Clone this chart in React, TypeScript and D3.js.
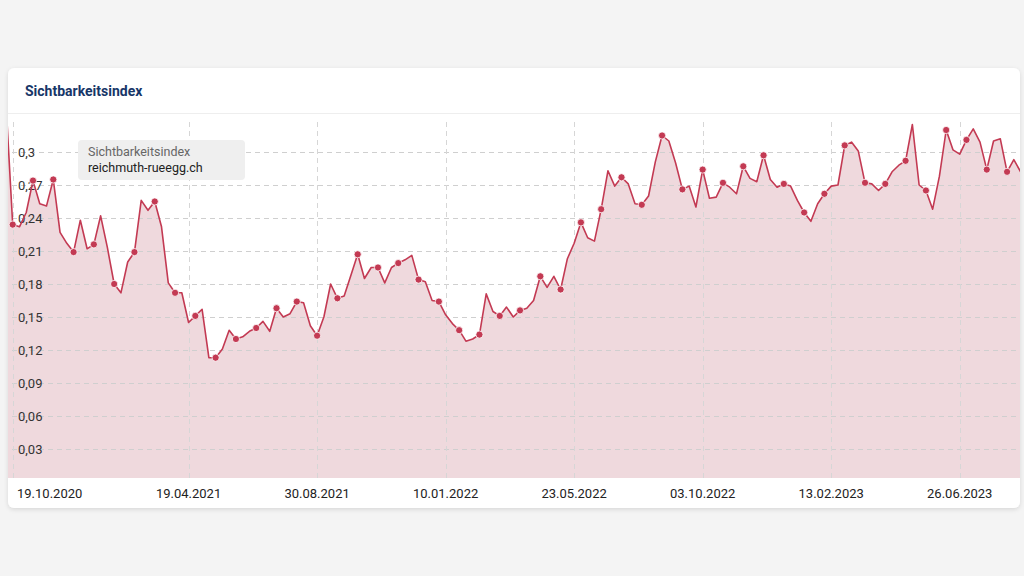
import React from "react";
import * as d3 from "d3";

const title = "Sichtbarkeitsindex";
const legendTitle = "Sichtbarkeitsindex";
const legendDomain = "reichmuth-rueegg.ch";

// weekly SISTRIX visibility index, first value is the week before 19.10.2020
const firstWeek = "12.10.2020";
const values: number[] = [
  0.345,
  0.234, 0.232, 0.245, 0.274, 0.253, 0.251, 0.275, 0.227, 0.217, 0.209,
  0.238, 0.212, 0.216, 0.242, 0.213, 0.180, 0.172, 0.200, 0.209, 0.256,
  0.247, 0.255, 0.232, 0.181, 0.172, 0.172, 0.145, 0.151, 0.157, 0.113,
  0.113, 0.121, 0.138, 0.130, 0.132, 0.137, 0.140, 0.146, 0.137, 0.158,
  0.150, 0.153, 0.164, 0.163, 0.142, 0.133, 0.150, 0.180, 0.167, 0.169,
  0.188, 0.207, 0.185, 0.195, 0.195, 0.181, 0.195, 0.199, 0.202, 0.206,
  0.184, 0.182, 0.165, 0.164, 0.152, 0.144, 0.138, 0.128, 0.130, 0.134,
  0.171, 0.155, 0.151, 0.159, 0.150, 0.156, 0.158, 0.165, 0.187, 0.177,
  0.187, 0.175, 0.203, 0.217, 0.236, 0.222, 0.219, 0.248, 0.283, 0.269,
  0.277, 0.271, 0.253, 0.252, 0.260, 0.291, 0.315, 0.310, 0.290, 0.266,
  0.269, 0.250, 0.284, 0.258, 0.259, 0.272, 0.268, 0.262, 0.287, 0.276,
  0.273, 0.297, 0.275, 0.268, 0.271, 0.269, 0.256, 0.245, 0.237, 0.253,
  0.262, 0.269, 0.270, 0.306, 0.309, 0.301, 0.272, 0.271, 0.265, 0.271,
  0.282, 0.288, 0.292, 0.325, 0.270, 0.265, 0.248, 0.278, 0.320, 0.302,
  0.298, 0.311, 0.321, 0.309, 0.284, 0.310, 0.312, 0.282, 0.293, 0.282,
];

const xTickLabels = [
  "19.10.2020", "19.04.2021", "30.08.2021", "10.01.2022",
  "23.05.2022", "03.10.2022", "13.02.2023", "26.06.2023",
];
const yTicks = [0.03, 0.06, 0.09, 0.12, 0.15, 0.18, 0.21, 0.24, 0.27, 0.3];

const parse = d3.timeParse("%d.%m.%Y");
const fmtY = (v: number) => String(+v.toFixed(2)).replace(".", ",");

export default function App() {
  const W = 1024, H = 576;
  const card = { x: 8, y: 68, w: 1012, h: 440 };
  const plot = { left: 8, right: 1020, top: 122, bottom: 478 };

  const start = parse(firstWeek) as Date;
  const dates = values.map((_, i) => d3.timeWeek.offset(start, i));
  const data = values.map((v, i) => ({ date: dates[i], value: v, i }));

  const x = d3.scaleTime()
    .domain([dates[1], dates[dates.length - 1]])
    .range([12.7, 1020.6]);
  const y = d3.scaleLinear().domain([0, 0.3]).range([482, 152]);

  const line = d3.line<any>().x(d => x(d.date)).y(d => y(d.value));
  const area = d3.area<any>().x(d => x(d.date)).y0(plot.bottom).y1(d => y(d.value));

  const xTicks = xTickLabels.map(s => parse(s) as Date);
  const lineColor = "#c33a53";
  const font = "Roboto, 'Noto Sans', Arial, sans-serif";

  return (
    <svg width={W} height={H} style={{ position: "absolute", left: 0, top: 0 }} fontFamily={font}>
      <defs>
        <clipPath id="plotClip">
          <rect x={plot.left} y={plot.top - 30} width={plot.right - plot.left} height={plot.bottom - plot.top + 30} />
        </clipPath>
        <filter id="shadow" x="-5%" y="-5%" width="110%" height="115%">
          <feDropShadow dx="0" dy="1.5" stdDeviation="2" floodColor="#000" floodOpacity="0.12" />
        </filter>
      </defs>
      <rect x={0} y={0} width={W} height={H} fill="#f4f4f4" />
      <rect x={card.x} y={card.y} width={card.w} height={card.h} rx={6} fill="#ffffff" filter="url(#shadow)" />
      <text x={25} y={96} fontSize={14} fontWeight={700} fill="#173668">{title}</text>
      <line x1={card.x} x2={card.x + card.w} y1={113.5} y2={113.5} stroke="#eeeeee" />

      <g clipPath="url(#plotClip)">
        <path d={area(data) as string} fill="#efd9dd" />
      </g>

      {/* grid */}
      {yTicks.map(t => (
        <line key={"gy" + t} x1={plot.left + 4} x2={plot.right - 4} y1={Math.round(y(t)) + 0.5} y2={Math.round(y(t)) + 0.5}
          stroke="#cfcfcf" strokeDasharray="5,4" />
      ))}
      {xTicks.map((t, i) => (
        <line key={"gx" + i} x1={Math.round(x(t)) + 0.5} x2={Math.round(x(t)) + 0.5} y1={plot.top} y2={plot.bottom}
          stroke="#d6d6d6" strokeDasharray="5,4" />
      ))}

      {yTicks.map(t => (
        <text key={"ty" + t} x={18} y={y(t)} dy="0.35em" fontSize={13} fill="#333">{fmtY(t)}</text>
      ))}

      <g clipPath="url(#plotClip)">
        <path d={line(data) as string} fill="none" stroke={lineColor} strokeWidth={1.6} strokeLinejoin="round" />
        {data.filter(d => d.i >= 1 && (d.i - 1) % 3 === 0).map(d => (
          <circle key={"c" + d.i} cx={x(d.date)} cy={y(d.value)} r={3.6} fill={lineColor} stroke="#fff" strokeWidth={0.8} />
        ))}
      </g>

      {xTicks.map((t, i) => (
        <text key={"tx" + i} x={i === 0 ? 17 : x(t)} y={493} dy="0.35em" fontSize={13} fill="#222"
          textAnchor={i === 0 ? "start" : "middle"}>{xTickLabels[i]}</text>
      ))}

      <rect x={78} y={140} width={167} height={40} rx={4} fill="#efefef" />
      <text x={88} y={156} fontSize={12.5} fill="#666">{legendTitle}</text>
      <text x={88} y={172} fontSize={12.5} fill="#222">{legendDomain}</text>
    </svg>
  );
}
